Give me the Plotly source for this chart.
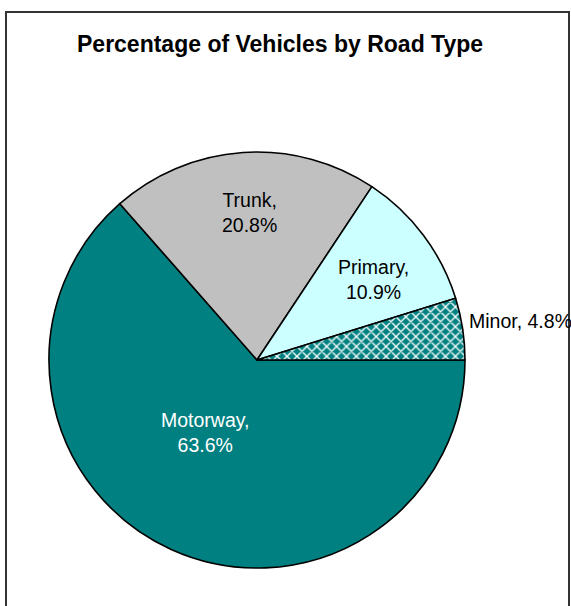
import math
import plotly.graph_objects as go

# Share of vehicles by road type (%)
road_types = ["Motorway", "Trunk", "Primary", "Minor"]
shares = [63.6, 20.8, 10.9, 4.8]
slice_colors = ["#008080", "#C0C0C0", "#CCFFFF", "#008080"]
label_colors = ["white", "black", "black", "black"]
title_text = "Percentage of Vehicles by Road Type"

# Label placement per slice: distance from centre (fraction of radius),
# angular nudge from the slice's mid-angle (degrees), and layout of the text.
label_radius = [0.425, 0.71, 0.68, 1.02]
label_nudge = [11.0, 1.0, 2.0, 0.0]
label_outside = [False, False, False, True]

W, H = 571, 606
FONT = "Liberation Sans, Arial, sans-serif"

# Pie geometry in pixels
CX, CY, R = 257, 360, 208
START = 90  # first slice starts at 3 o'clock, running clockwise

fig = go.Figure(
    go.Pie(
        labels=road_types,
        values=shares,
        sort=False,
        direction="clockwise",
        rotation=START,
        textinfo="none",
        marker=dict(
            colors=slice_colors,
            line=dict(color="black", width=1.6),
            pattern=dict(
                shape=["", "", "", "x"],
                fgcolor="white",
                bgcolor="#008080",
                size=7,
                solidity=0.35,
            ),
        ),
        hoverinfo="label+percent",
        showlegend=False,
        domain=dict(x=[(CX - R) / W, (CX + R) / W], y=[1 - (CY + R) / H, 1 - (CY - R) / H]),
    )
)

# Data labels placed from each slice's angle
total = sum(shares)
annotations = []
cum = 0.0
for name, val, col, rf, nudge, outside in zip(
    road_types, shares, label_colors, label_radius, label_nudge, label_outside
):
    mid = START + (cum + val / 2) / total * 360.0 + nudge
    cum += val
    ang = math.radians(mid)
    px = CX + rf * R * math.sin(ang)
    py = CY - rf * R * math.cos(ang)
    if outside:
        text = f"{name}, {val:.1f}%"
        xanchor, yshift = "left", 7
    else:
        text = f"{name},<br>{val:.1f}%"
        xanchor, yshift = "center", 0
    annotations.append(
        dict(
            text=text,
            xref="paper", yref="paper",
            x=px / W, y=1 - py / H,
            xanchor=xanchor, yanchor="middle", yshift=yshift,
            showarrow=False,
            font=dict(size=19.5, color=col, family=FONT),
        )
    )

annotations.append(
    dict(
        text="<b>" + title_text + "</b>",
        xref="paper", yref="paper",
        x=280 / W, y=1 - 44 / H,
        xanchor="center", yanchor="middle",
        showarrow=False,
        font=dict(size=23, color="black", family=FONT),
    )
)

fig.update_layout(
    width=W,
    height=H,
    margin=dict(l=0, r=0, t=0, b=0),
    paper_bgcolor="white",
    plot_bgcolor="white",
    font=dict(family=FONT),
    shapes=[
        dict(
            type="rect", xref="paper", yref="paper",
            x0=6 / W, x1=569 / W, y0=-0.05, y1=1 - 12 / H,
            line=dict(color="#333333", width=2), fillcolor="rgba(0,0,0,0)",
            layer="below",
        )
    ],
    annotations=annotations,
)

fig.write_html("out.html")
